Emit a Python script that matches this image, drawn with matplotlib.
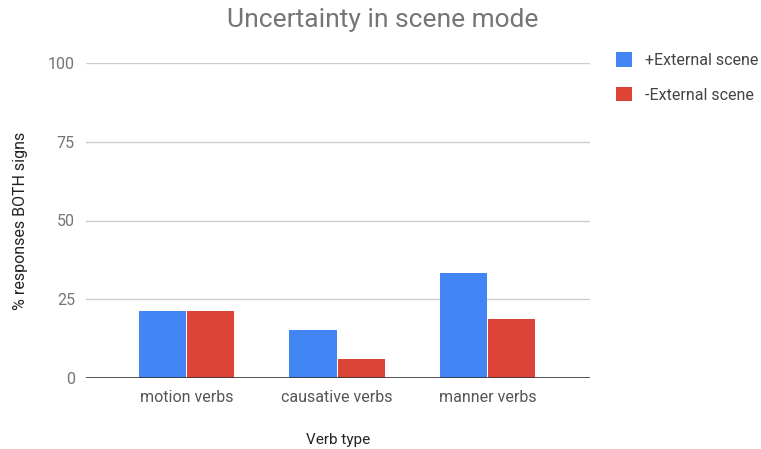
import numpy as np
import matplotlib.pyplot as plt

categories = ['motion verbs', 'causative verbs', 'manner verbs']
series_names = ['+External scene', '-External scene']
plus_external = [21.3, 15.3, 33.2]
minus_external = [21.3, 6.0, 18.7]
y_ticks = [0, 25, 50, 75, 100]

plt.rcParams['font.family'] = ['Roboto', 'DejaVu Sans']

fig = plt.figure(figsize=(7.61, 4.49), dpi=100)
ax = fig.add_axes([86 / 761, 71 / 449, 504 / 761, 315 / 449])

x = np.arange(len(categories))
w = 0.32
ax.bar(x - w / 2, plus_external, width=w * 0.98, color='#4285f4', label=series_names[0], zorder=3)
ax.bar(x + w / 2, minus_external, width=w * 0.98, color='#db4437', label=series_names[1], zorder=3)

ax.set_xlim(-0.667, 2.68)
ax.set_ylim(0, 100)
ax.set_yticks(y_ticks)
ax.set_xticks(x)
ax.set_xticklabels(categories)
for t in y_ticks[1:]:
    ax.axhline(t, color='#cccccc', lw=1, zorder=1)
ax.axhline(0, color='#333333', lw=1.2, zorder=4)

for s in ax.spines.values():
    s.set_visible(False)
ax.tick_params(axis='y', length=0, pad=8, labelsize=11.5, labelcolor='#757575')
ax.tick_params(axis='x', length=0, pad=9, labelsize=11.5, labelcolor='#555555')

ax.set_xlabel('Verb type', fontsize=11, color='#222222', labelpad=20)
ax.set_ylabel('% responses BOTH signs', fontsize=11.5, color='#222222', labelpad=14)

fig.text(383 / 761, 1 - 20 / 449, 'Uncertainty in scene mode', ha='center', va='center',
         fontsize=19, color='#757575')

ax.legend(loc='upper left', bbox_to_anchor=(610 / 761, 1 - 46 / 449),
          bbox_transform=fig.transFigure, frameon=False,
          fontsize=11.5, labelcolor='#444444', handlelength=1.0, handleheight=1.0,
          labelspacing=1.2, handletextpad=0.8, borderaxespad=0)

fig.savefig('out.png', dpi=100)
